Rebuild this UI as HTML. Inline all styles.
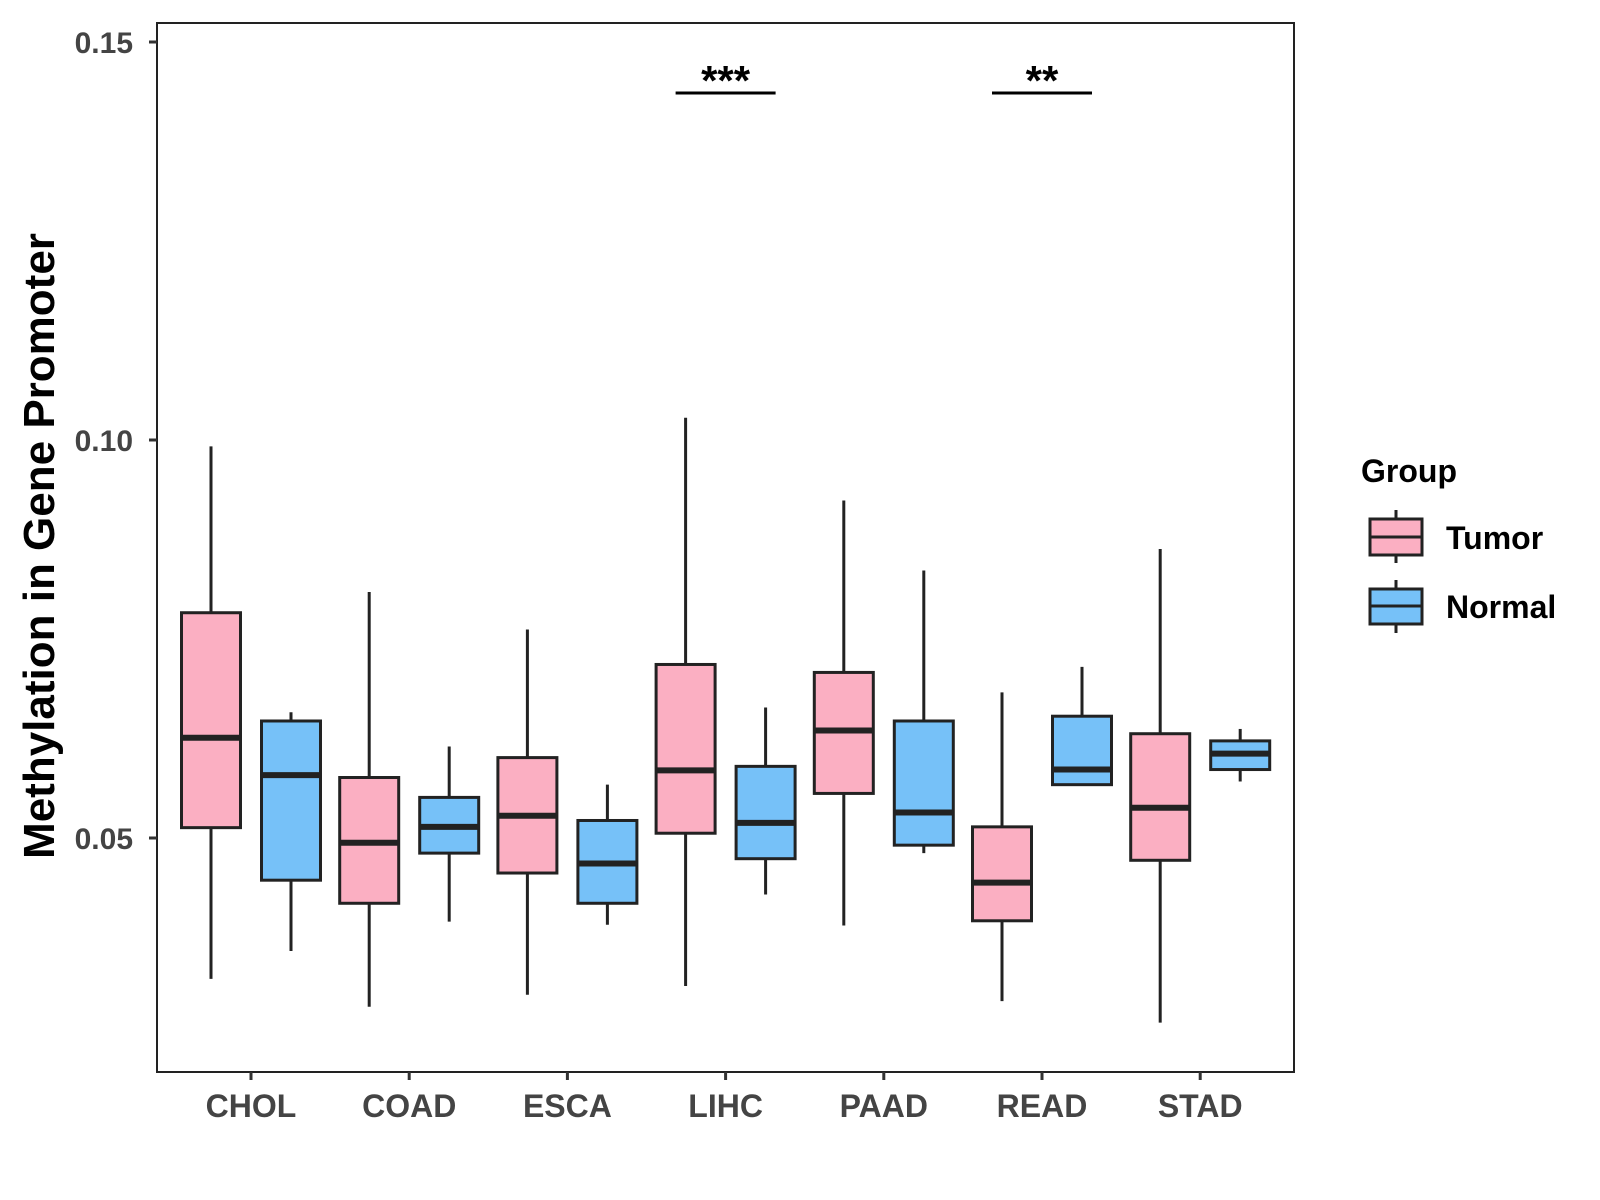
<!DOCTYPE html>
<html><head><meta charset="utf-8"><style>
body{margin:0;background:#fff}
svg{display:block;font-family:"Liberation Sans",sans-serif;font-weight:bold}
</style></head><body>
<svg id="chart" width="1600" height="1200">
<rect x="157" y="23" width="1137" height="1049" fill="#fff" stroke="#222" stroke-width="2"/>
<g id="marks"></g>
<text transform="translate(54,546) rotate(-90)" text-anchor="middle" font-size="44" fill="#000">Methylation in Gene Promoter</text>
<text x="1361" y="482" font-size="32" fill="#000">Group</text>
<g>
<line x1="1396" y1="510" x2="1396" y2="563" stroke="#222" stroke-width="3"/>
<rect x="1370" y="519" width="52" height="36" fill="#FBAFC2" stroke="#222" stroke-width="3"/>
<line x1="1370" y1="537" x2="1422" y2="537" stroke="#222" stroke-width="3"/>
<text x="1446" y="549" font-size="32" fill="#000">Tumor</text></g>
<g>
<line x1="1396" y1="580" x2="1396" y2="633" stroke="#222" stroke-width="3"/>
<rect x="1370" y="589" width="52" height="35" fill="#76C1F8" stroke="#222" stroke-width="3"/>
<line x1="1370" y1="606" x2="1422" y2="606" stroke="#222" stroke-width="3"/>
<text x="1446" y="618" font-size="32" fill="#000">Normal</text></g>
</svg>
<script>
const categories=["CHOL","COAD","ESCA","LIHC","PAAD","READ","STAD"];
// [whiskerHigh, q3, median, q1, whiskerLow]
const tumor=[[0.0992,0.0783,0.0626,0.0513,0.0323],[0.0809,0.0576,0.0494,0.0418,0.0288],[0.0762,0.0601,0.0528,0.0456,0.0303],[0.1028,0.0718,0.0585,0.0506,0.0314],[0.0924,0.0708,0.0635,0.0556,0.0390],[0.0683,0.0514,0.0444,0.0396,0.0295],[0.0863,0.0631,0.0538,0.0472,0.0268]];
const normal=[[0.0658,0.0647,0.0579,0.0447,0.0358],[0.0615,0.0551,0.0514,0.0481,0.0395],[0.0567,0.0522,0.0468,0.0418,0.0391],[0.0664,0.0590,0.0519,0.0474,0.0429],[0.0836,0.0647,0.0532,0.0491,0.0481],[0.0715,0.0653,0.0586,0.0567,0.0567],[0.0637,0.0622,0.0606,0.0586,0.0571]];
const yTicks=[0.05,0.10,0.15];
const yTickLabels=["0.05","0.10","0.15"];
const sigCats=["LIHC","READ"];
const sigLabels=["***","**"];
const sigLevel=0.1436;
const NS="http://www.w3.org/2000/svg";
const g=document.getElementById('marks');
const y=v=>42+(0.15-v)*7960;
const x=i=>251+i*158.2;
function mk(t,a,p){const e=document.createElementNS(NS,t);for(const k in a)e.setAttribute(k,a[k]);(p||g).appendChild(e);return e;}
yTicks.forEach((v,i)=>{
  const l=mk('line',{x1:149,x2:157,y1:y(v),y2:y(v),stroke:'#333','stroke-width':3});
  
  
  const t=mk('text',{x:133,y:y(v)+11,'text-anchor':'end','font-size':30,fill:'#444'});
  t.textContent=yTickLabels[i];
  
  
});
categories.forEach((c,i)=>{
  const l=mk('line',{x1:x(i),x2:x(i),y1:1072,y2:1080,stroke:'#333','stroke-width':3});
  
  
  const t=mk('text',{x:x(i),y:1117,'text-anchor':'middle','font-size':32,fill:'#444'});
  t.textContent=c;
  
  
  [[tumor[i],-40,'#FBAFC2','tumor'],[normal[i],40,'#76C1F8','normal']].forEach(([d,off,col,nm])=>{
    const cx=x(i)+off, w=59;
    const grp=mk('g',{});
    
    
    mk('line',{x1:cx,x2:cx,y1:y(d[0]),y2:y(d[4]),stroke:'#222','stroke-width':3},grp);
    mk('rect',{x:cx-w/2,y:y(d[1]),width:w,height:y(d[3])-y(d[1]),fill:col,stroke:'#222','stroke-width':3},grp);
    mk('line',{x1:cx-w/2,x2:cx+w/2,y1:y(d[2]),y2:y(d[2]),stroke:'#222','stroke-width':6},grp);
  });
});
sigCats.forEach((c,k)=>{
  const i=categories.indexOf(c);
  const l=mk('line',{x1:x(i)-50,x2:x(i)+50,y1:y(sigLevel),y2:y(sigLevel),stroke:'#000','stroke-width':3});
  
  
  const t=mk('text',{x:x(i),y:y(sigLevel)+2,'text-anchor':'middle','font-size':42,fill:'#000'});
  t.textContent=sigLabels[k];
  
  
});
</script>
</body></html>
